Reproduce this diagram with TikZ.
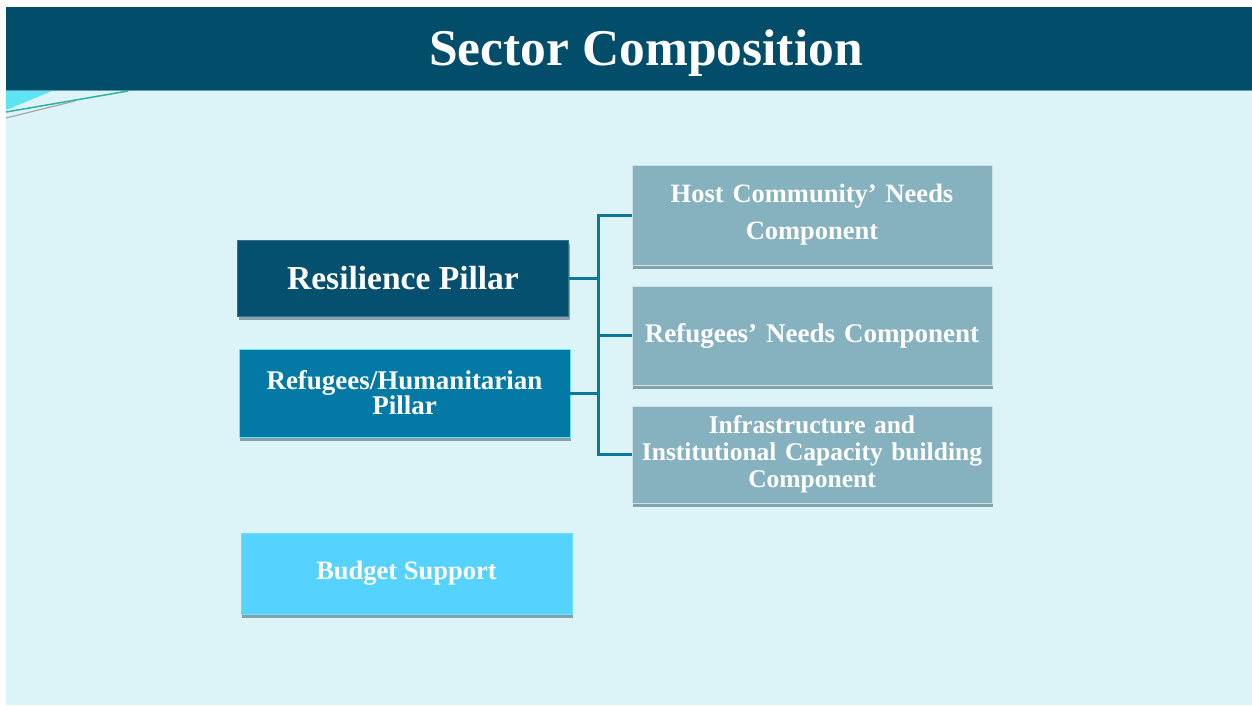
\documentclass[tikz,border=0pt]{standalone}
\usepackage{fontspec}
\setmainfont{Liberation Serif}
\usetikzlibrary{shadows}
\definecolor{hdr}{HTML}{024D6A}
\definecolor{bgc}{HTML}{DCF4F8}
\definecolor{resc}{HTML}{04506E}
\definecolor{humc}{HTML}{0479A6}
\definecolor{budc}{HTML}{55D3FE}
\definecolor{compc}{HTML}{86B2BF}
\definecolor{connc}{HTML}{0B76A0}
\definecolor{cyanb}{HTML}{66E6F5}
\definecolor{decoc}{HTML}{5DE4F2}
\definecolor{decol}{HTML}{2BB3A0}
\definecolor{shadc}{HTML}{3A5F6E}
\tikzset{
  box/.style={draw, line width=0.8pt, text=white, align=center, inner sep=2pt,
    font=\bfseries,
    drop shadow={shadow xshift=1pt, shadow yshift=-4pt, fill=shadc, opacity=0.55}},
  pillar/.style={box, minimum width=331pt},
  comp/.style={box, fill=compc, draw=white!60!compc, minimum width=360pt, text width=354pt},
  conn/.style={draw=connc, line width=3pt},
}
\begin{document}
\begin{tikzpicture}[x=1pt,y=-1pt]
\useasboundingbox (0,0) rectangle (1252,705);
% background
\fill[white] (0,0) rectangle (1252,705);
\fill[bgc] (6,7) rectangle (1252,705);
\fill[hdr] (6,7) rectangle (1252,90);
\draw[color=hdr!60!white, line width=1pt] (6,90.5) -- (1252,90.5);
% decoration
\fill[decoc] (6,91) -- (52,91) -- (6,110) -- cycle;
\draw[decol, line width=1.5pt] (6,112) -- (128,91);
\draw[gray!70, line width=1.2pt] (6,118) -- (75,101);
% title
\node[text=white, font=\bfseries\fontsize{51.5}{56}\selectfont] (title) at (646,53) {Sector Composition};
% pillars
\node[pillar, fill=resc, draw=resc!80!white, minimum height=76pt,
  font=\bfseries\fontsize{33.5}{38}\selectfont] (res) at (403,278) {Resilience Pillar};
\node[pillar, fill=humc, draw=cyanb, minimum height=88pt,
  font=\bfseries\fontsize{27}{25}\selectfont] (hum) at (404.5,393) {Refugees/Humanitarian\\Pillar};
\node[pillar, fill=budc, draw=cyanb, minimum height=81pt,
  font=\bfseries\fontsize{26.5}{30}\selectfont] (bud) at (406.5,573.5) {Budget Support};
% components
\node[comp, minimum height=100pt, font=\bfseries\fontsize{26.5}{37}\selectfont] (host) at (812,215)
  {Host Community’ Needs\\Component};
\node[comp, minimum height=99pt, font=\bfseries\fontsize{27}{30}\selectfont] (need) at (812,335.5)
  {Refugees’ Needs Component};
\node[comp, minimum height=97pt, font=\bfseries\fontsize{25.5}{27}\selectfont] (infra) at (812,454.5)
  {Infrastructure and\\Institutional Capacity building\\Component};
% connectors
\coordinate (trunk) at (598,0);
\draw[conn] (host.west) -- (host.west -| trunk) -- (infra.west -| trunk) -- (infra.west);
\draw[conn] (need.west) -- (need.west -| trunk);
\draw[conn] (res.east) -- (res.east -| trunk);
\draw[conn] (hum.east) -- (hum.east -| trunk);
\end{tikzpicture}
\end{document}
